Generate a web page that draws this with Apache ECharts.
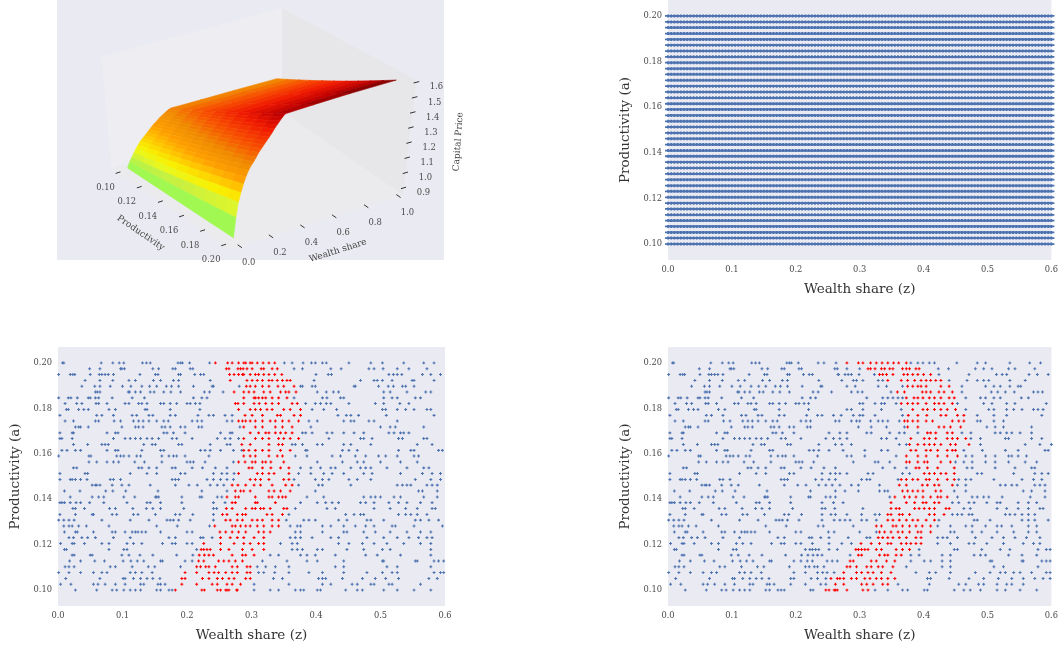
<!DOCTYPE html>
<html>
<head>
<meta charset="utf-8">
<style>
  html, body { margin: 0; padding: 0; background: #fff; }
  #chart { width: 1061px; height: 647px; }
  #chart canvas { filter: blur(0.35px); }
</style>
<script src="https://cdn.jsdelivr.net/npm/echarts@6/dist/echarts.min.js"></script>
</head>
<body>
<div id="chart"></div>
<script>
const zTicks = [0, 0.1, 0.2, 0.3, 0.4, 0.5, 0.6]
const aTicks = [0.10, 0.12, 0.14, 0.16, 0.18, 0.20]

// productivity rows, top of the plot first
const aRows = [0.2000,0.1974,0.1949,0.1923,0.1897,0.1872,0.1846,0.1821,0.1795,0.1769,
  0.1744,0.1718,0.1692,0.1667,0.1641,0.1615,0.1590,0.1564,0.1538,0.1513,
  0.1487,0.1462,0.1436,0.1410,0.1385,0.1359,0.1333,0.1308,0.1282,0.1256,
  0.1231,0.1205,0.1179,0.1154,0.1128,0.1103,0.1077,0.1051,0.1026,0.1000]

// wealth share grid of the upper right panel
const zGrid = [0,.005,.01,.015,.02,.025,.03,.035,.04,.045,.05,.055,.06,.065,.07,.075,.08,.085,.09,.095,
  .1,.105,.11,.115,.12,.125,.13,.135,.14,.145,.15,.155,.16,.165,.17,.175,.18,.185,.19,.195,
  .2,.205,.21,.215,.22,.225,.23,.235,.24,.245,.25,.255,.26,.265,.27,.275,.28,.285,.29,.295,
  .3,.305,.31,.315,.32,.325,.33,.335,.34,.345,.35,.355,.36,.365,.37,.375,.38,.385,.39,.395,
  .4,.405,.41,.415,.42,.425,.43,.435,.44,.445,.45,.455,.46,.465,.47,.475,.48,.485,.49,.495,
  .5,.505,.51,.515,.52,.525,.53,.535,.54,.545,.55,.555,.56,.565,.57,.575,.58,.585,.59,.595,.6]

// sampled wealth shares per row of the lower left panel, same order as aRows
const samples = [
  [.007,.009,.067,.085,.095,.102,.131,.137,.143,.186,.19,.193,.204,.235,.244,.263,.27,.28,.288,.291,.298,.301,.309,.318,.327,.336,.351,.363,.38,.393,.399,.41,.416,.451,.485,.503,.536,.567,.583],
  [.049,.065,.097,.099,.103,.147,.156,.178,.182,.205,.209,.261,.265,.279,.283,.287,.293,.301,.315,.319,.332,.34,.366,.379,.423,.439,.482,.49,.504,.526,.544,.572],
  [.001,.019,.023,.026,.05,.064,.068,.073,.078,.086,.127,.151,.155,.187,.19,.212,.221,.226,.266,.273,.28,.286,.288,.298,.306,.311,.319,.327,.336,.347,.4,.419,.424,.513,.52,.526,.533,.565,.578,.593],
  [.042,.065,.085,.11,.12,.148,.159,.179,.187,.236,.267,.293,.301,.309,.317,.327,.332,.34,.348,.355,.36,.397,.469,.49,.495,.503,.518,.549,.552,.583],
  [.037,.057,.065,.081,.1,.113,.13,.142,.153,.168,.176,.187,.21,.239,.241,.281,.292,.298,.306,.317,.327,.341,.35,.366,.376,.379,.394,.399,.459,.461,.497,.512,.52,.534,.539,.552],
  [.058,.061,.065,.109,.111,.12,.128,.143,.149,.164,.175,.19,.227,.235,.256,.273,.288,.296,.304,.319,.329,.345,.353,.358,.369,.402,.416,.427,.435,.505,.515,.541,.57,.578],
  [.001,.016,.02,.03,.047,.05,.058,.063,.084,.115,.134,.21,.223,.231,.288,.304,.306,.311,.317,.322,.332,.342,.355,.366,.41,.417,.438,.443,.505,.518,.526,.554,.562],
  [.011,.029,.037,.059,.063,.076,.104,.11,.125,.13,.138,.159,.164,.174,.184,.2,.205,.213,.22,.275,.279,.288,.304,.312,.322,.332,.342,.363,.371,.384,.399,.407,.416,.423,.451,.492,.505,.53,.544],
  [.013,.016,.032,.04,.047,.079,.089,.135,.138,.174,.22,.28,.298,.306,.314,.324,.332,.35,.36,.376,.394,.412,.432,.503,.508,.526,.539,.552,.572,.578],
  [.003,.06,.068,.086,.115,.122,.141,.147,.174,.182,.217,.234,.241,.259,.27,.29,.301,.317,.34,.345,.366,.376,.434,.447,.454,.466,.509,.583],
  [.011,.024,.058,.063,.087,.097,.117,.125,.132,.141,.153,.164,.171,.208,.216,.223,.262,.27,.28,.286,.291,.298,.306,.317,.329,.337,.348,.358,.373,.389,.402,.443,.454,.459,.482,.49,.526],
  [.027,.032,.035,.047,.099,.12,.125,.132,.161,.166,.174,.19,.197,.218,.223,.282,.288,.306,.317,.337,.348,.363,.392,.5,.515,.523,.567],
  [.003,.022,.024,.076,.089,.093,.164,.169,.179,.197,.252,.267,.27,.298,.311,.322,.327,.337,.345,.353,.363,.379,.384,.394,.417,.425,.443,.459,.474,.513,.521,.531,.536,.544],
  [.003,.006,.022,.086,.104,.112,.12,.128,.138,.146,.156,.177,.184,.208,.247,.259,.267,.28,.288,.306,.317,.327,.342,.35,.36,.373,.42,.469,.474,.487,.528,.534,.567,.572],
  [.024,.046,.068,.073,.078,.133,.146,.151,.187,.192,.236,.262,.267,.285,.298,.327,.342,.348,.363,.368,.379,.402,.41,.443,.454,.485,.557,.58],
  [.006,.014,.027,.035,.076,.089,.093,.13,.159,.164,.221,.228,.236,.252,.272,.285,.288,.296,.306,.317,.327,.345,.36,.384,.386,.441,.451,.464,.528,.547,.552,.59,.596],
  [.001,.048,.051,.091,.097,.102,.11,.122,.128,.161,.172,.179,.184,.197,.234,.288,.298,.306,.327,.34,.348,.368,.386,.425,.438,.461,.477,.497,.508,.526,.552,.559],
  [.048,.06,.076,.086,.094,.119,.134,.161,.2,.205,.21,.228,.272,.28,.29,.301,.306,.317,.322,.33,.35,.402,.441,.464,.474,.5,.531,.557],
  [.024,.029,.125,.13,.141,.153,.177,.182,.208,.224,.244,.262,.296,.301,.317,.33,.345,.358,.376,.392,.407,.423,.43,.454,.469,.477,.485,.51,.541,.567,.575],
  [.003,.042,.046,.112,.138,.153,.19,.197,.241,.254,.262,.273,.28,.309,.317,.327,.335,.358,.373,.392,.412,.425,.443,.474,.487,.531,.565,.58,.593],
  [.003,.019,.022,.027,.035,.045,.081,.086,.097,.177,.182,.187,.231,.241,.252,.262,.272,.298,.306,.314,.327,.35,.358,.366,.399,.41,.42,.451,.464,.485,.554,.578,.593],
  [.053,.058,.06,.065,.084,.099,.11,.143,.182,.203,.216,.236,.247,.257,.27,.279,.291,.304,.314,.332,.353,.363,.373,.404,.41,.454,.526,.534,.541,.547,.572,.58,.588],
  [.01,.034,.074,.085,.105,.155,.223,.262,.275,.283,.288,.298,.327,.335,.345,.36,.399,.559,.565,.588],
  [.019,.053,.063,.071,.102,.119,.151,.153,.156,.192,.22,.223,.247,.254,.262,.275,.28,.306,.327,.332,.342,.348,.353,.386,.412,.474,.485,.492,.5,.521,.531,.567,.588],
  [.003,.006,.01,.019,.028,.035,.049,.071,.107,.138,.143,.159,.192,.241,.259,.27,.275,.306,.309,.337,.376,.402,.415,.425,.435,.469,.477,.49,.513,.528,.541,.562,.58],
  [.023,.027,.041,.08,.089,.116,.137,.147,.159,.195,.241,.246,.261,.27,.291,.301,.306,.314,.319,.329,.35,.355,.368,.417,.43,.49,.515,.539,.557,.58,.585],
  [.003,.027,.053,.055,.084,.091,.117,.124,.151,.182,.189,.209,.241,.255,.262,.278,.286,.291,.324,.332,.348,.358,.446,.459,.469,.474,.528,.539,.547,.557,.572],
  [.001,.009,.017,.025,.068,.112,.141,.169,.174,.179,.187,.205,.241,.26,.267,.278,.286,.301,.309,.317,.332,.342,.354,.381,.389,.399,.435,.448,.479,.485,.505,.554,.562,.575,.59],
  [.009,.017,.022,.032,.044,.079,.153,.185,.235,.243,.27,.275,.283,.291,.298,.309,.319,.332,.342,.36,.371,.376,.41,.423,.443,.461,.477,.49,.518,.523,.552,.596],
  [.01,.027,.03,.055,.084,.089,.104,.115,.12,.124,.13,.136,.159,.2,.208,.251,.26,.27,.28,.291,.311,.319,.329,.368,.376,.41,.443,.448,.474,.492,.515,.541,.562,.578],
  [.017,.024,.037,.046,.058,.086,.112,.172,.182,.221,.225,.239,.252,.267,.278,.288,.304,.319,.36,.368,.376,.394,.423,.435,.479,.505,.526,.544,.559,.572,.58],
  [.004,.022,.025,.041,.068,.079,.107,.117,.13,.162,.177,.182,.2,.208,.226,.252,.273,.288,.298,.311,.319,.345,.363,.371,.435,.451,.472,.49,.51,.536,.562,.578],
  [.01,.013,.079,.102,.107,.215,.222,.226,.231,.236,.252,.265,.286,.301,.319,.363,.371,.379,.402,.41,.448,.474,.503,.515,.578],
  [.022,.025,.05,.053,.099,.11,.127,.147,.184,.209,.219,.227,.234,.241,.27,.286,.291,.304,.329,.342,.376,.386,.399,.43,.477,.495,.531,.578],
  [.018,.035,.057,.072,.101,.113,.123,.133,.159,.162,.197,.208,.218,.226,.249,.257,.265,.275,.286,.317,.355,.386,.402,.443,.503,.505,.554,.557,.583,.59,.598],
  [.011,.017,.025,.081,.089,.115,.14,.15,.19,.215,.221,.229,.234,.244,.27,.278,.293,.298,.309,.322,.337,.358,.43,.443,.51,.526,.578],
  [.001,.017,.035,.055,.068,.076,.112,.12,.13,.146,.197,.215,.234,.242,.249,.26,.27,.278,.293,.298,.311,.319,.336,.358,.389,.41,.443,.479,.503,.518,.526,.583,.593,.598],
  [.012,.065,.101,.104,.117,.128,.138,.147,.158,.192,.197,.224,.234,.247,.255,.265,.273,.291,.298,.334,.348,.404,.41,.415,.441,.472,.492,.508,.528,.575,.588],
  [.004,.02,.055,.062,.073,.089,.104,.128,.133,.155,.159,.166,.192,.215,.239,.247,.262,.27,.283,.304,.358,.41,.423,.456,.464,.485,.49,.513,.518,.562],
  [.027,.06,.084,.091,.102,.112,.12,.128,.153,.159,.172,.177,.182,.223,.227,.247,.252,.262,.277,.26,.265,.278,.304,.329,.342,.368,.376,.381,.402,.407,.446,.464,.472,.505,.526,.552,.578]
]

// lower right panel: same as samples below this share, own values above it
const rightSplitAt = 0.267
const rightUpper = [
  [.28,.298,.305,.317,.326,.335,.344,.353,.361,.373,.38,.391,.399,.409,.417,.452,.484,.497,.535,.566,.583],
  [.28,.3,.313,.317,.324,.334,.339,.347,.352,.367,.373,.378,.388,.393,.423,.439,.481,.494,.507,.533,.543,.574],
  [.267,.277,.282,.287,.299,.323,.331,.336,.342,.352,.369,.375,.383,.391,.4,.411,.424,.471,.514,.523,.53,.565,.578,.595],
  [.272,.29,.295,.305,.329,.336,.344,.365,.375,.386,.396,.404,.411,.419,.427,.44,.468,.484,.494,.502,.535,.559],
  [.28,.293,.329,.342,.367,.375,.383,.391,.396,.404,.427,.44,.46,.497,.51,.52,.535,.548,.552],
  [.287,.297,.304,.349,.359,.37,.398,.404,.411,.424,.432,.445,.46,.506,.516,.528,.542,.572,.579,.586],
  [.311,.336,.344,.352,.36,.367,.373,.385,.391,.399,.409,.417,.427,.44,.448,.466,.489,.497,.51,.52,.553,.564],
  [.3,.305,.324,.334,.339,.357,.365,.375,.383,.391,.404,.417,.424,.432,.445,.453,.494,.507,.53,.543,.592],
  [.28,.287,.305,.334,.365,.383,.399,.406,.417,.427,.437,.45,.466,.502,.51,.53,.541,.554,.572,.579,.587],
  [.271,.29,.3,.305,.324,.367,.376,.391,.405,.427,.435,.453,.463,.484,.51,.53,.585],
  [.268,.287,.295,.3,.317,.329,.336,.344,.362,.37,.375,.383,.391,.404,.414,.445,.455,.463,.484,.489,.51,.525],
  [.298,.318,.342,.37,.375,.391,.424,.432,.442,.458,.499,.512,.525,.569],
  [.269,.28,.311,.318,.347,.362,.37,.391,.406,.411,.419,.437,.445,.46,.474,.512,.52,.53,.538,.551,.569],
  [.269,.28,.334,.342,.357,.38,.401,.409,.419,.437,.445,.453,.466,.474,.489,.528,.533,.569,.585],
  [.272,.287,.362,.373,.378,.391,.401,.409,.417,.427,.442,.45,.471,.489,.559,.582,.6],
  [.274,.308,.334,.344,.38,.388,.404,.411,.422,.437,.445,.45,.463,.492,.528,.548,.59,.595],
  [.28,.287,.308,.357,.373,.391,.404,.422,.437,.453,.466,.476,.497,.512,.533,.538,.548,.561],
  [.29,.324,.329,.347,.373,.378,.391,.401,.406,.427,.442,.45,.463,.476,.497,.512,.533,.559,.577],
  [.336,.355,.373,.388,.393,.406,.422,.448,.468,.476,.512,.543,.569,.574],
  [.269,.28,.313,.321,.367,.378,.401,.409,.417,.427,.435,.448,.484,.491,.541,.574,.585,.595],
  [.303,.311,.316,.36,.365,.373,.383,.391,.404,.409,.422,.437,.448,.455,.466,.474,.51,.554,.572,.585],
  [.269,.287,.298,.331,.362,.373,.398,.406,.417,.424,.445,.453,.466,.52,.528,.538,.546,.574,.582,.59],
  [.277,.298,.331,.339,.344,.367,.375,.383,.391,.399,.419,.427,.448,.466,.556,.569,.59],
  [.347,.355,.37,.378,.388,.399,.411,.422,.427,.437,.453,.476,.484,.494,.502,.523,.567,.59],
  [.274,.349,.373,.386,.399,.404,.417,.424,.445,.455,.471,.479,.499,.515,.52,.548,.564,.577],
  [.305,.349,.357,.362,.386,.393,.401,.409,.417,.435,.44,.463,.473,.515,.53,.548,.564,.582,.587],
  [.28,.303,.324,.331,.344,.349,.362,.367,.378,.409,.417,.432,.445,.453,.46,.471,.476,.528,.535,.543,.554,.564,.574],
  [.269,.277,.285,.303,.311,.326,.344,.352,.362,.373,.383,.391,.404,.417,.424,.479,.484,.504,.554,.564,.574,.595],
  [.29,.326,.334,.352,.357,.367,.378,.388,.398,.411,.422,.442,.466,.476,.497,.515,.522,.538,.564,.577],
  [.3,.326,.331,.339,.349,.36,.367,.378,.391,.396,.411,.442,.448,.476,.491,.515,.541,.564,.577],
  [.282,.311,.316,.329,.336,.344,.352,.362,.373,.388,.396,.422,.43,.437,.453,.481,.507,.525,.543,.561,.582],
  [.272,.287,.302,.318,.331,.344,.349,.365,.373,.38,.388,.396,.422,.442,.471,.479,.499,.525,.556,.572,.582],
  [.294,.298,.303,.308,.313,.326,.334,.357,.367,.378,.393,.448,.453,.491,.52,.535,.579,.592,.598],
  [.285,.298,.303,.331,.339,.344,.357,.365,.38,.393,.429,.442,.479,.489,.497,.533,.554,.577],
  [.285,.29,.318,.326,.342,.355,.38,.401,.411,.429,.442,.504,.507,.554,.556,.585,.592,.598],
  [.28,.285,.295,.311,.318,.329,.336,.352,.373,.429,.442,.51,.525,.579],
  [.275,.295,.303,.313,.321,.334,.349,.388,.409,.419,.442,.481,.504,.52,.528,.541,.551,.569,.592,.598],
  [.269,.275,.287,.295,.308,.316,.326,.334,.344,.355,.406,.411,.44,.471,.494,.517,.538,.556,.574,.587,.598],
  [.275,.303,.311,.321,.336,.344,.36,.409,.455,.466,.486,.494,.515,.53,.538,.556],
  [.28,.305,.313,.324,.344,.367,.375,.401,.406,.448,.463,.473,.489,.515,.528,.551,.577]
]

// red band per row, lower left panel
const leftBandLow = [.244,.26,.266,.267,.292,.273,.286,.275,.28,.29,.28,.283,.298,.288,.283,.288,.288,.275,.296,.28,.298,.27,.275,.262,.26,.261,.255,.26,.243,.251,.244,.225,.222,.215,.215,.213,.197,.192,.19,.182]
const leftBandHigh = [.336,.34,.347,.36,.366,.369,.365,.371,.376,.376,.377,.368,.363,.373,.348,.36,.348,.35,.36,.358,.358,.363,.363,.355,.342,.358,.348,.342,.342,.331,.319,.322,.319,.306,.286,.298,.298,.298,.286,.278]
// red band per row, lower right panel
const rightBandLow = [.28,.313,.331,.342,.368,.35,.368,.36,.383,.375,.37,.373,.406,.38,.378,.38,.373,.373,.388,.39,.365,.362,.367,.352,.349,.349,.342,.344,.325,.328,.328,.302,.294,.298,.285,.28,.266,.252,.252,.24]
const rightBandHigh = [.373,.395,.411,.437,.44,.448,.448,.45,.453,.463,.466,.458,.45,.471,.471,.45,.455,.442,.45,.45,.448,.445,.427,.448,.442,.442,.435,.417,.411,.411,.396,.396,.378,.367,.357,.352,.349,.355,.344,.321]

// capital price surface
const surfaceZ = [.04,.055,.07,.085,.1,.115,.13,.145,.16,.175,.19,.205,.22,.235,.25,.265,.28,.295,.31,.325,.34,.5,.7,.95]
const surfaceA = [.10,.11,.12,.13,.14,.15,.16,.17,.18,.19,.20]
const surfaceP = [
  [.865,.867,.868,.87,.871,.873,.874,.876,.877,.879,.88],
  [.9,.91,.92,.93,.94,.95,.96,.97,.98,.99,1],
  [.925,.942,.958,.975,.991,1.008,1.024,1.041,1.057,1.074,1.09],
  [.95,.97,.989,1.009,1.028,1.048,1.067,1.087,1.106,1.126,1.145],
  [.975,.997,1.019,1.041,1.063,1.085,1.107,1.129,1.151,1.173,1.195],
  [.995,1.019,1.043,1.067,1.091,1.115,1.139,1.163,1.187,1.211,1.235],
  [1.015,1.041,1.066,1.092,1.117,1.143,1.168,1.194,1.219,1.245,1.27],
  [1.03,1.057,1.083,1.11,1.136,1.163,1.189,1.216,1.242,1.269,1.295],
  [1.045,1.072,1.099,1.126,1.153,1.18,1.207,1.234,1.261,1.288,1.315],
  [1.06,1.088,1.116,1.144,1.172,1.2,1.228,1.256,1.284,1.312,1.34],
  [1.075,1.104,1.133,1.162,1.191,1.22,1.249,1.278,1.307,1.336,1.365],
  [1.09,1.12,1.149,1.179,1.208,1.238,1.267,1.297,1.326,1.356,1.385],
  [1.105,1.135,1.165,1.195,1.225,1.255,1.285,1.315,1.345,1.375,1.405],
  [1.115,1.146,1.177,1.208,1.239,1.27,1.301,1.332,1.363,1.394,1.425],
  [1.13,1.162,1.193,1.225,1.256,1.288,1.319,1.351,1.382,1.414,1.445],
  [1.14,1.173,1.205,1.238,1.27,1.303,1.335,1.368,1.4,1.433,1.465],
  [1.15,1.184,1.218,1.252,1.286,1.32,1.354,1.388,1.422,1.456,1.49],
  [1.16,1.195,1.23,1.265,1.3,1.335,1.37,1.405,1.44,1.475,1.51],
  [1.17,1.206,1.242,1.278,1.314,1.35,1.386,1.422,1.458,1.494,1.53],
  [1.175,1.213,1.25,1.288,1.325,1.363,1.4,1.438,1.475,1.513,1.55],
  [1.175,1.214,1.253,1.292,1.331,1.371,1.41,1.449,1.488,1.527,1.566],
  [1.17,1.211,1.252,1.293,1.334,1.375,1.416,1.457,1.498,1.539,1.58],
  [1.165,1.208,1.251,1.294,1.337,1.38,1.423,1.466,1.509,1.552,1.595],
  [1.156,1.201,1.247,1.292,1.338,1.383,1.428,1.474,1.519,1.565,1.61]
]

// ticks of the 3d box
const boxZTicks = [0, 0.2, 0.4, 0.6, 0.8, 1.0]
const boxATicks = [0.10, 0.12, 0.14, 0.16, 0.18, 0.20]
const boxPTicks = [0.9, 1.0, 1.1, 1.2, 1.3, 1.4, 1.5, 1.6]

// colour ramp of the surface
const heatStops = [0.89, 0.93, 0.96, 1.0, 1.05, 1.1, 1.17, 1.25, 1.34, 1.41, 1.47]
const heatColors = ['#a0f850', '#c8f040', '#e8f820', '#f8f000', '#ffc800', '#ffa000', '#f08c00', '#f85000', '#f01800', '#c00000', '#600000']

const FONT = '"DejaVu Serif", serif'
const BLUE = '#4c72b0'
const RED = '#ff0000'
const PLUS = 'path://M0 3.2H10V6.8H0Z M3.2 0H6.8V10H3.2Z'
const PLUS_WIDE = 'path://M0 2H10V8H0Z M3.5 0H6.5V10H3.5Z'

// box limits and camera: where the box corners fall in the upper left panel
const zLim = [-0.02, 1.02]
const aLim = [0.094, 0.206]
const pLim = [0.855, 1.615]
const floorQuad = [[111.7, 168.3], [282.3, 111.7], [402.7, 194.7], [230, 249.3]]
const topQuad = [[101.7, 56.7], [282.3, 8.3], [416.7, 80], [230, 124.7]]

function quadMap(q) {
  const [[x0, y0], [x1, y1], [x2, y2], [x3, y3]] = q
  const dx1 = x1 - x2, dx2 = x3 - x2, sx = x0 - x1 + x2 - x3
  const dy1 = y1 - y2, dy2 = y3 - y2, sy = y0 - y1 + y2 - y3
  const den = dx1 * dy2 - dx2 * dy1
  const g = (sx * dy2 - dx2 * sy) / den
  const h = (dx1 * sy - sx * dy1) / den
  const a = x1 - x0 + g * x1, b = x3 - x0 + h * x3
  const d = y1 - y0 + g * y1, e = y3 - y0 + h * y3
  return (u, v) => {
    const w = g * u + h * v + 1
    return [(a * u + b * v + x0) / w, (d * u + e * v + y0) / w]
  }
}
const floorMap = quadMap(floorQuad)
const topMap = quadMap(topQuad)

function project(z, a, p) {
  const u = (z - zLim[0]) / (zLim[1] - zLim[0])
  const v = (a - aLim[0]) / (aLim[1] - aLim[0])
  const w = (p - pLim[0]) / (pLim[1] - pLim[0])
  const f = floorMap(u, v), t = topMap(u, v)
  return [f[0] + (t[0] - f[0]) * w, f[1] + (t[1] - f[1]) * w]
}

function heatColor(a, p) {
  const h = p / (1 + (a - 0.1))
  if (h <= heatStops[0]) return heatColors[0]
  for (let i = 1; i < heatStops.length; i++) {
    if (h <= heatStops[i]) {
      const t = (h - heatStops[i - 1]) / (heatStops[i] - heatStops[i - 1])
      return echarts.color.lerp(t, [heatColors[i - 1], heatColors[i]])
    }
  }
  return heatColors[heatColors.length - 1]
}

// panes of the 3d box
const panes = [
  { fill: '#eeeef2', pts: [[zLim[0], aLim[0], pLim[0]], [zLim[1], aLim[0], pLim[0]], [zLim[1], aLim[0], pLim[1]], [zLim[0], aLim[0], pLim[1]]] },
  { fill: '#e7e7ea', pts: [[zLim[1], aLim[0], pLim[0]], [zLim[1], aLim[1], pLim[0]], [zLim[1], aLim[1], pLim[1]], [zLim[1], aLim[0], pLim[1]]] },
  { fill: '#ebebee', pts: [[zLim[0], aLim[0], pLim[0]], [zLim[1], aLim[0], pLim[0]], [zLim[1], aLim[1], pLim[0]], [zLim[0], aLim[1], pLim[0]]] }
]

// surface cells, far ones first
const cells = []
for (let i = surfaceZ.length - 2; i >= 0; i--) {
  for (let j = 0; j < surfaceA.length - 1; j++) cells.push([i, j])
}

// tick marks and labels of the 3d box
const boxTicks = []
boxATicks.forEach(a => boxTicks.push({
  from: [zLim[0] - 0.015, a, pLim[0]], to: [zLim[0] + 0.015, a, pLim[0]],
  text: a.toFixed(2), dx: -12.5, dy: 15
}))
// the z ticks sit a little inside the box ends
boxZTicks.forEach(z => {
  const zAt = 0.04 + z * 0.955
  boxTicks.push({
    from: [zAt, aLim[1] - 0.002, pLim[0]], to: [zAt, aLim[1] + 0.002, pLim[0]],
    text: z.toFixed(1), dx: 9, dy: 16.5
  })
})
boxPTicks.forEach(p => boxTicks.push({
  from: [zLim[1] - 0.015, aLim[1], p], to: [zLim[1] + 0.015, aLim[1], p],
  text: p.toFixed(1), dx: 20, dy: 5
}))

const boxNames = [
  { text: 'Productivity', x: 140.7, y: 233, rotation: -0.6 },
  { text: 'Wealth share', x: 338, y: 250.7, rotation: 0.31 },
  { text: 'Capital Price', x: 458.3, y: 141.7, rotation: 1.5 }
]

const gridPoints = []
aRows.forEach(a => zGrid.forEach(z => gridPoints.push([z, a])))

function splitByBand(rows, low, high) {
  const blue = [], red = []
  rows.forEach((row, r) => {
    row.forEach(z => {
      if (z >= low[r] && z <= high[r]) red.push([z, aRows[r]])
      else blue.push([z, aRows[r]])
    })
  })
  return { blue, red }
}
const rightSamples = samples.map((row, r) => row.filter(z => z < rightSplitAt).concat(rightUpper[r]))
const leftSplit = splitByBand(samples, leftBandLow, leftBandHigh)
const rightSplit = splitByBand(rightSamples, rightBandLow, rightBandHigh)

function valueAxisX(gridIndex) {
  return {
    type: 'value', gridIndex, min: 0, max: 0.6, interval: 0.1,
    name: 'Wealth share (z)', nameLocation: 'middle', nameGap: 22,
    nameTextStyle: { fontFamily: FONT, fontSize: 13.5, color: '#333' },
    axisLine: { show: false }, axisTick: { show: false }, splitLine: { show: false },
    axisLabel: { fontFamily: FONT, fontSize: 8.3, color: '#4a4a4a', margin: 6, formatter: v => v.toFixed(1), showMinLabel: true, showMaxLabel: true }
  }
}

function valueAxisY(gridIndex) {
  return {
    type: 'value', gridIndex, min: 0.093, max: 0.207,
    name: 'Productivity (a)', nameLocation: 'middle', nameGap: 36,
    nameTextStyle: { fontFamily: FONT, fontSize: 13.5, color: '#333' },
    axisLine: { show: false }, axisTick: { show: false }, splitLine: { show: false },
    axisLabel: { fontFamily: FONT, fontSize: 8.3, color: '#4a4a4a', margin: 6, customValues: aTicks, formatter: v => v.toFixed(2) }
  }
}

function plusSeries(gridIndex, data, color, symbol, symbolSize) {
  return {
    type: 'scatter', xAxisIndex: gridIndex, yAxisIndex: gridIndex, data, symbol, symbolSize,
    itemStyle: { color, opacity: 1 }, silent: true, animation: false
  }
}

const BG = '#eaeaf2'
const option = {
  backgroundColor: '#fff',
  animation: false,
  grid: [
    { left: 57, top: 0, width: 387, height: 260, show: true, backgroundColor: BG, borderWidth: 0 },
    { left: 668, top: 0, width: 387, height: 260, show: true, backgroundColor: BG, borderWidth: 0 },
    { left: 58, top: 347, width: 387, height: 259, show: true, backgroundColor: BG, borderWidth: 0 },
    { left: 668, top: 347, width: 387, height: 259, show: true, backgroundColor: BG, borderWidth: 0 }
  ],
  xAxis: [
    { type: 'value', gridIndex: 0, min: 57, max: 444, show: false },
    valueAxisX(1), valueAxisX(2), valueAxisX(3)
  ],
  yAxis: [
    { type: 'value', gridIndex: 0, min: 0, max: 260, inverse: true, show: false },
    valueAxisY(1), valueAxisY(2), valueAxisY(3)
  ],
  series: [
    {
      type: 'custom', xAxisIndex: 0, yAxisIndex: 0, silent: true, clip: false,
      data: panes.map((p, i) => [i]),
      renderItem(params, api) {
        const pane = panes[api.value(0)]
        return {
          type: 'polygon',
          shape: { points: pane.pts.map(q => api.coord(project(q[0], q[1], q[2]))) },
          style: { fill: pane.fill }
        }
      }
    },
    {
      type: 'custom', xAxisIndex: 0, yAxisIndex: 0, silent: true, clip: false,
      data: cells,
      renderItem(params, api) {
        const i = api.value(0), j = api.value(1)
        const corners = [[i, j], [i, j + 1], [i + 1, j + 1], [i + 1, j]]
        const mean = (surfaceP[i][j] + surfaceP[i][j + 1] + surfaceP[i + 1][j] + surfaceP[i + 1][j + 1]) / 4
        const fill = heatColor((surfaceA[j] + surfaceA[j + 1]) / 2, mean)
        return {
          type: 'polygon',
          shape: { points: corners.map(c => api.coord(project(surfaceZ[c[0]], surfaceA[c[1]], surfaceP[c[0]][c[1]]))) },
          style: { fill, stroke: fill, lineWidth: 0.6 }
        }
      }
    },
    {
      type: 'custom', xAxisIndex: 0, yAxisIndex: 0, silent: true, clip: false,
      data: boxTicks.map((t, i) => [i]),
      renderItem(params, api) {
        const t = boxTicks[api.value(0)]
        const a = api.coord(project(t.from[0], t.from[1], t.from[2]))
        const b = api.coord(project(t.to[0], t.to[1], t.to[2]))
        return {
          type: 'group',
          children: [
            { type: 'line', shape: { x1: a[0], y1: a[1], x2: b[0], y2: b[1] }, style: { stroke: '#333', lineWidth: 1 } },
            {
              type: 'text', x: (a[0] + b[0]) / 2 + t.dx, y: (a[1] + b[1]) / 2 + t.dy,
              style: { text: t.text, font: '8.4px ' + FONT, fill: '#4a4a4a', align: 'center', verticalAlign: 'middle' }
            }
          ]
        }
      }
    },
    {
      type: 'custom', xAxisIndex: 0, yAxisIndex: 0, silent: true, clip: false,
      data: boxNames.map((t, i) => [i]),
      renderItem(params, api) {
        const t = boxNames[api.value(0)]
        const c = api.coord([t.x, t.y])
        return {
          type: 'text', x: c[0], y: c[1], rotation: t.rotation,
          style: { text: t.text, font: '9px ' + FONT, fill: '#444', align: 'center', verticalAlign: 'middle' }
        }
      }
    },
    plusSeries(1, gridPoints, BLUE, PLUS_WIDE, [6, 3]),
    plusSeries(2, leftSplit.blue, BLUE, PLUS, 2.9),
    plusSeries(2, leftSplit.red, RED, PLUS, 2.9),
    plusSeries(3, rightSplit.blue, BLUE, PLUS, 2.9),
    plusSeries(3, rightSplit.red, RED, PLUS, 2.9)
  ]
}

const chart = echarts.init(document.getElementById('chart'), null, { renderer: 'canvas' })
chart.setOption(option)
</script>
</body>
</html>
